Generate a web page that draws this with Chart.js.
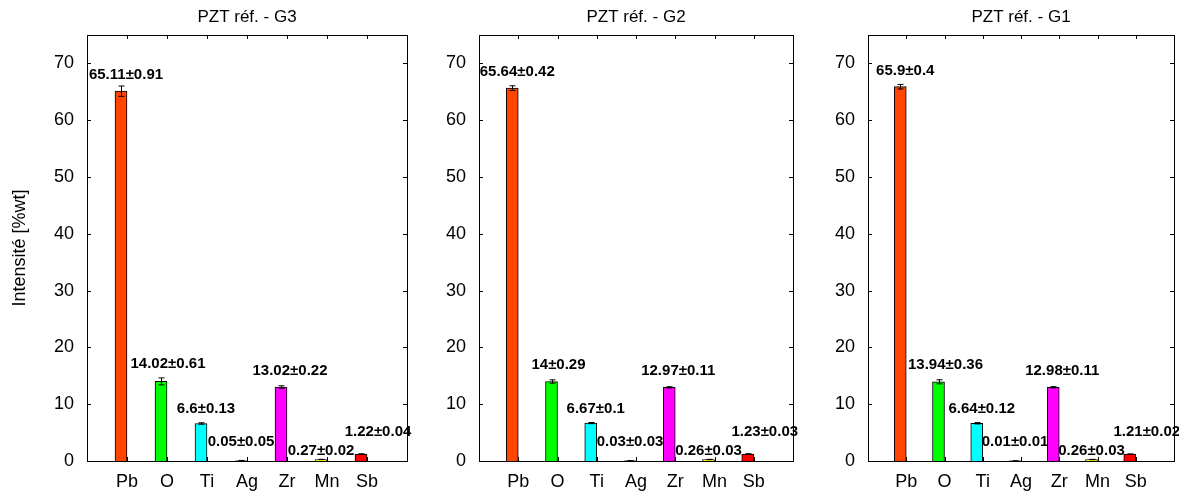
<!DOCTYPE html>
<html>
<head>
<meta charset="utf-8">
<script src="https://cdn.jsdelivr.net/npm/chart.js@4.4.1/dist/chart.umd.min.js"></script>
<style>
  body { margin: 0; background: #fff; width: 1179px; height: 491px; position: relative; overflow: hidden; }
  canvas { position: absolute; top: 0; }
</style>
</head>
<body>
<canvas id="g3" width="420" height="491" style="left:0px"></canvas>
<canvas id="g2" width="385" height="491" style="left:420px"></canvas>
<canvas id="g1" width="374" height="491" style="left:805px"></canvas>
<script>
  // elements on the x axis
  const elements = ["Pb", "O", "Ti", "Ag", "Zr", "Mn", "Sb"];
  const barColors = ["#ff4500", "#00ff00", "#00ffff", "#000080", "#ff00ff", "#ffff00", "#ff0000"];
  const yTicks = [0, 10, 20, 30, 40, 50, 60, 70];

  // mean and error for each sample
  const g3Values = [65.11, 14.02, 6.6, 0.05, 13.02, 0.27, 1.22];
  const g3Errors = [0.91, 0.61, 0.13, 0.05, 0.22, 0.02, 0.04];
  const g2Values = [65.64, 14, 6.67, 0.03, 12.97, 0.26, 1.23];
  const g2Errors = [0.42, 0.29, 0.1, 0.03, 0.11, 0.03, 0.03];
  const g1Values = [65.9, 13.94, 6.64, 0.01, 12.98, 0.26, 1.21];
  const g1Errors = [0.4, 0.36, 0.12, 0.01, 0.11, 0.03, 0.02];
  // second (empty) bar group of the original plot
  const emptySeries = [0, 0, 0, 0, 0, 0, 0];

  // text label nudges, same for every panel (px right, y units up)
  const labelDx = [-1, 1, -1, -6, 3, -6, 11];
  const labelDy = [2.8, 3.0, 2.5, 3.4, 2.9, 1.5, 3.9];

  const FONT = "'Liberation Sans', Arial, sans-serif";

  // box + inward ticks (matlab look) and the panel title
  const boxPlugin = {
    id: "box",
    afterDraw(chart, args, opts) {
      const { ctx, chartArea: a, scales } = chart;
      ctx.save();
      ctx.strokeStyle = "#000";
      ctx.lineWidth = 1;
      ctx.strokeRect(Math.round(a.left) + 0.5, Math.round(a.top) + 0.5,
        Math.round(a.right - a.left), Math.round(a.bottom - a.top));
      ctx.beginPath();
      yTicks.forEach((t) => {
        const y = Math.round(scales.y.getPixelForValue(t)) + 0.5;
        ctx.moveTo(a.left, y); ctx.lineTo(a.left + 4, y);
        ctx.moveTo(a.right, y); ctx.lineTo(a.right - 4, y);
      });
      elements.forEach((e, i) => {
        const x = Math.round(scales.x.getPixelForValue(i + 1)) + 0.5;
        ctx.moveTo(x, a.top); ctx.lineTo(x, a.top + 4);
        ctx.moveTo(x, a.bottom); ctx.lineTo(x, a.bottom - 4);
      });
      ctx.stroke();
      ctx.fillStyle = "#000";
      ctx.font = "17px " + FONT;
      ctx.textAlign = "center";
      ctx.textBaseline = "middle";
      ctx.fillText(opts.title, (a.left + a.right) / 2, 17);
      ctx.restore();
    },
  };

  // error bars and value labels
  const errorPlugin = {
    id: "errors",
    afterDatasetsDraw(chart, args, opts) {
      const { ctx, scales } = chart;
      const meta = chart.getDatasetMeta(0);
      ctx.save();
      ctx.strokeStyle = "#000";
      ctx.lineWidth = 1;
      opts.values.forEach((v, i) => {
        const bx = Math.round(meta.data[i].x) + 0.5;
        const yTop = scales.y.getPixelForValue(v + opts.errors[i]);
        const yBot = scales.y.getPixelForValue(v - opts.errors[i]);
        ctx.beginPath();
        ctx.moveTo(bx, yTop); ctx.lineTo(bx, yBot);
        ctx.moveTo(bx - 3, yTop); ctx.lineTo(bx + 3, yTop);
        ctx.moveTo(bx - 3, yBot); ctx.lineTo(bx + 3, yBot);
        ctx.stroke();
      });
      ctx.fillStyle = "#000";
      ctx.font = "bold 15px " + FONT;
      ctx.textAlign = "center";
      ctx.textBaseline = "middle";
      opts.values.forEach((v, i) => {
        const x = scales.x.getPixelForValue(i + 1) + labelDx[i];
        const y = scales.y.getPixelForValue(v + labelDy[i]);
        ctx.fillText(v + "\u00b1" + opts.errors[i], x, y);
      });
      ctx.restore();
    },
  };

  function makePanel(id, title, values, errors, yWidth, padRight, showYTitle) {
    const ctx = document.getElementById(id).getContext("2d");
    return new Chart(ctx, {
      type: "bar",
      data: {
        datasets: [
          {
            data: values.map((v, i) => ({ x: i + 1, y: v })),
            backgroundColor: barColors,
            borderColor: "#000",
            borderWidth: 1,
            barThickness: 12,
          },
          {
            data: emptySeries.map((v, i) => ({ x: i + 1, y: v })),
            backgroundColor: "transparent",
            borderWidth: 0,
            barThickness: 12,
          },
        ],
      },
      options: {
        responsive: false,
        animation: false,
        devicePixelRatio: 1,
        layout: { padding: { left: 0, right: padRight, top: 35, bottom: 0 } },
        scales: {
          x: {
            type: "linear",
            min: 0,
            max: 8,
            offset: false,
            grid: { display: false },
            border: { display: false },
            ticks: {
              stepSize: 1,
              autoSkip: false,
              maxRotation: 0,
              padding: 2,
              color: "#000",
              font: { family: FONT, size: 18 },
              callback: (v) => elements[v - 1] || "",
            },
            afterFit: (scale) => { scale.height = 30; },
          },
          y: {
            min: 0,
            max: 75,
            grid: { display: false },
            border: { display: false },
            afterBuildTicks: (scale) => { scale.ticks = yTicks.map((v) => ({ value: v })); },
            ticks: {
              padding: 5,
              color: "#000",
              font: { family: FONT, size: 18 },
            },
            title: {
              display: showYTitle,
              text: "Intensité [%wt]",
              color: "#000",
              font: { family: FONT, size: 18 },
              padding: { top: 9, bottom: 0 },
            },
            afterFit: (scale) => { scale.width = yWidth; },
          },
        },
        plugins: {
          legend: { display: false },
          tooltip: { enabled: false },
          title: { display: false },
          box: { title: title },
          errors: { values: values, errors: errors },
        },
      },
      plugins: [boxPlugin, errorPlugin],
    });
  }

  makePanel("g3", "PZT réf. - G3", g3Values, g3Errors, 87, 13, true);
  makePanel("g2", "PZT réf. - G2", g2Values, g2Errors, 59, 12, false);
  makePanel("g1", "PZT réf. - G1", g1Values, g1Errors, 63, 5, false);
</script>
</body>
</html>
